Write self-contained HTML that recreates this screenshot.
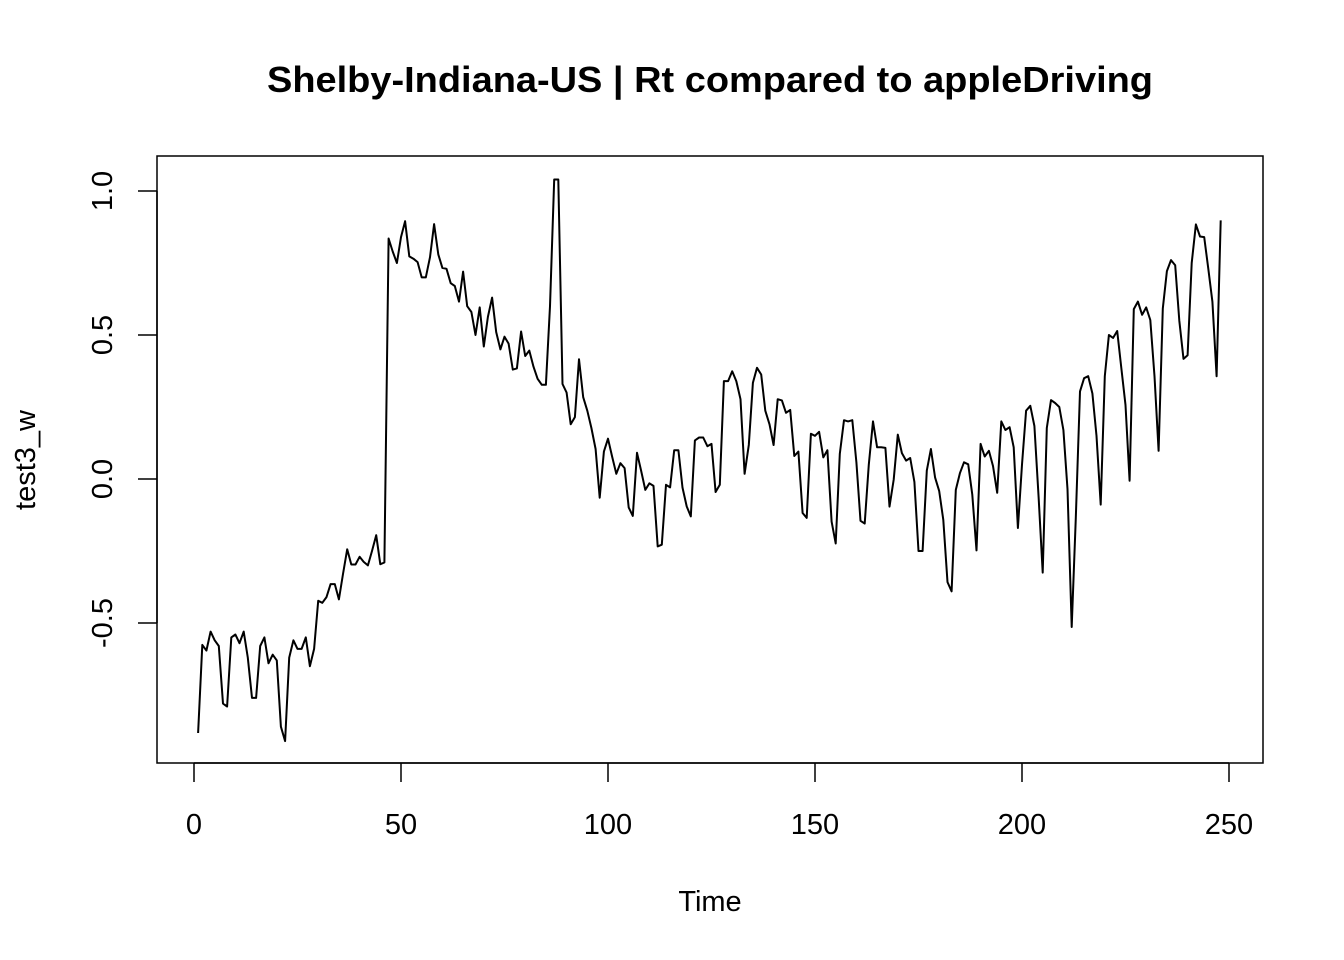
<!DOCTYPE html>
<html><head><meta charset="utf-8"><style>
html,body{margin:0;padding:0;background:#fff}
svg{display:block;font-family:"Liberation Sans",Arial,sans-serif}
</style></head><body>
<svg width="1344" height="960" viewBox="0 0 1344 960">
<rect width="1344" height="960" fill="#fff"/>
<text x="710" y="92" text-anchor="middle" font-size="36" font-weight="bold" textLength="886" lengthAdjust="spacingAndGlyphs">Shelby-Indiana-US | Rt compared to appleDriving</text>
<rect x="157" y="156" width="1106" height="607" fill="none" stroke="#000" stroke-width="1.5"/>
<g id="xaxis"></g>
<g id="yaxis"></g>
<text x="710" y="911" text-anchor="middle" font-size="29">Time</text>
<text transform="translate(35,460) rotate(-90)" text-anchor="middle" font-size="29">test3_w</text>
<path id="series" fill="none" stroke="#000" stroke-width="2" stroke-linejoin="round"/>
</svg>
<script>
const values = [-0.882,-0.576,-0.596,-0.53,-0.56,-0.58,-0.78,-0.79,-0.55,-0.54,-0.57,-0.53,-0.62,-0.76,-0.76,-0.58,-0.55,-0.64,-0.61,-0.63,-0.86,-0.91,-0.62,-0.56,-0.59,-0.59,-0.55,-0.65,-0.59,-0.423,-0.43,-0.41,-0.365,-0.365,-0.418,-0.33,-0.244,-0.297,-0.297,-0.27,-0.288,-0.30,-0.25,-0.195,-0.296,-0.29,
0.835,0.79,0.75,0.84,0.895,0.773,0.765,0.753,0.70,0.70,0.77,0.885,0.78,0.733,0.73,0.68,0.67,0.616,0.72,0.60,0.58,0.50,0.596,0.46,0.563,0.63,0.51,0.45,0.494,0.47,0.38,0.384,0.512,0.427,0.446,0.39,0.348,0.327,0.327,0.6,1.04,1.04,0.33,0.30,0.19,0.215,0.416,0.284,0.237,0.177,0.104,-0.065,0.095,0.14,0.078,0.018,0.055,0.038,-0.099,-0.128,0.091,0.029,-0.038,-0.015,-0.024,-0.234,-0.228,-0.02,-0.029,0.10,0.10,-0.03,-0.095,-0.13,0.134,0.144,0.144,0.114,0.122,-0.045,-0.02,0.34,0.34,0.374,0.34,0.277,0.018,0.118,0.334,0.386,0.363,0.237,0.19,0.118,0.277,0.273,0.23,0.24,0.08,0.095,-0.118,-0.135,0.157,0.15,0.164,0.075,0.10,-0.148,-0.224,0.087,0.204,0.20,0.204,0.058,-0.145,-0.155,0.05,0.20,0.11,0.11,0.108,-0.096,-0.002,0.154,0.09,0.064,0.073,-0.01,-0.25,-0.25,0.029,0.104,0.005,-0.042,-0.142,-0.358,-0.39,-0.038,0.02,0.058,0.051,-0.055,-0.248,0.122,0.078,0.098,0.045,-0.048,0.20,0.17,0.18,0.11,-0.17,0.05,0.237,0.254,0.184,-0.062,-0.325,0.177,0.274,0.264,0.25,0.17,-0.035,-0.514,-0.135,0.304,0.35,0.357,0.297,0.15,-0.089,0.357,0.5,0.49,0.514,0.383,0.257,-0.006,0.59,0.616,0.57,0.596,0.552,0.357,0.098,0.592,0.722,0.76,0.742,0.55,0.417,0.43,0.75,0.884,0.842,0.84,0.73,0.616,0.357,0.898];
const xTicks = [0,50,100,150,200,250];
const yTicks = [-0.5,0,0.5,1];
const yTickLabels = ["-0.5","0.0","0.5","1.0"];

const NS = "http://www.w3.org/2000/svg";
function xs(t){ return 194 + t*(1229-194)/250; }
function ys(v){ return 479 - v*288; }

let d = "";
values.forEach((v,i)=>{ d += (i?"L":"M") + xs(i+1).toFixed(1) + "," + ys(v).toFixed(1); });
document.getElementById("series").setAttribute("d", d);

const xa = document.getElementById("xaxis");
const xl = document.createElementNS(NS,"line");
xl.setAttribute("x1",xs(xTicks[0])); xl.setAttribute("x2",xs(xTicks[xTicks.length-1]));
xl.setAttribute("y1",763); xl.setAttribute("y2",763); xl.setAttribute("stroke","#000"); xl.setAttribute("stroke-width","1.5");


xa.appendChild(xl);
xTicks.forEach(t=>{
  const l = document.createElementNS(NS,"line");
  l.setAttribute("x1",xs(t)); l.setAttribute("x2",xs(t)); l.setAttribute("y1",763); l.setAttribute("y2",782);
  l.setAttribute("stroke","#000"); l.setAttribute("stroke-width","1.5");
  
  
  xa.appendChild(l);
  const tx = document.createElementNS(NS,"text");
  tx.setAttribute("x",xs(t)); tx.setAttribute("y",834); tx.setAttribute("text-anchor","middle"); tx.setAttribute("font-size","29");
  tx.textContent = String(t);
  
  
  xa.appendChild(tx);
});
const ya = document.getElementById("yaxis");
const yl = document.createElementNS(NS,"line");
yl.setAttribute("x1",157); yl.setAttribute("x2",157);
yl.setAttribute("y1",ys(yTicks[0])); yl.setAttribute("y2",ys(yTicks[yTicks.length-1])); yl.setAttribute("stroke","#000"); yl.setAttribute("stroke-width","1.5");


ya.appendChild(yl);
yTicks.forEach((v,i)=>{
  const l = document.createElementNS(NS,"line");
  l.setAttribute("x1",138); l.setAttribute("x2",157); l.setAttribute("y1",ys(v)); l.setAttribute("y2",ys(v));
  l.setAttribute("stroke","#000"); l.setAttribute("stroke-width","1.5");
  
  
  ya.appendChild(l);
  const tx = document.createElementNS(NS,"text");
  tx.setAttribute("transform","translate(112,"+ys(v)+") rotate(-90)");
  tx.setAttribute("text-anchor","middle"); tx.setAttribute("font-size","29");
  tx.textContent = yTickLabels[i];
  
  
  ya.appendChild(tx);
});
</script>
</body></html>
